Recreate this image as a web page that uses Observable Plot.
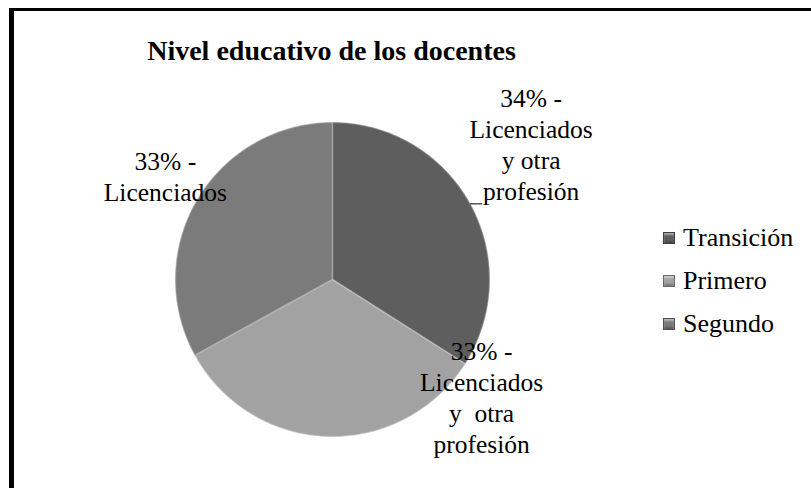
<!DOCTYPE html>
<html>
<head>
<meta charset="utf-8">
<script src="https://cdn.jsdelivr.net/npm/d3@7"></script>
<script src="https://cdn.jsdelivr.net/npm/@observablehq/plot@0.6"></script>
<style>
  html, body { margin: 0; padding: 0; background: #fff; }
  body { width: 811px; height: 488px; overflow: hidden; position: relative; font-family: 'Liberation Serif', serif; }
  #chart { position: absolute; left: 0; top: 0; }
  #frame { position: absolute; left: 9px; top: 8px; width: 900px; height: 600px; border-left: 5px solid #000; border-top: 3px solid #000; box-sizing: border-box; pointer-events: none; }
  #title { position: absolute; left: 0; top: 35px; width: 663px; text-align: center; font-weight: bold; font-size: 28px; color: #000; }
  #legend { position: absolute; left: 663px; top: 216px; }
  .item { display: flex; align-items: center; height: 43px; font-size: 26px; color: #000; }
  .sw { width: 12px; height: 12px; margin-right: 8px; box-sizing: border-box; border: 1px solid rgba(0,0,0,0.35); box-shadow: inset 0 2px 2px rgba(255,255,255,0.45), inset 0 -2px 2px rgba(0,0,0,0.25); }
</style>
</head>
<body>
<div id="chart"></div>
<div id="title">Nivel educativo de los docentes</div>
<div id="legend"></div>
<div id="frame"></div>
<script>
// ---- data ----
const categories = ["Transición", "Primero", "Segundo"];
const shares = [34, 33, 33];
const labelTexts = [
  "34% -\nLicenciados\ny otra\nprofesión",
  "33% -\nLicenciados\ny\u00a0\u00a0otra\nprofesión",
  "33% -\nLicenciados"
];
const colors = ["#5e5e5e", "#a2a2a2", "#7b7b7b"];

// ---- build slices (clockwise from 12 o'clock) ----
const total = d3.sum(shares);
const slices = [];
let acc = 0;
categories.forEach((c, i) => {
  const a0 = acc / total * 2 * Math.PI;
  acc += shares[i];
  const a1 = acc / total * 2 * Math.PI;
  slices.push({category: c, a0, a1, mid: (a0 + a1) / 2, label: labelTexts[i]});
});
const polar = (a, r) => ({x: Math.sin(a) * r, y: Math.cos(a) * r});

const pieRows = [];
for (const s of slices) {
  pieRows.push({category: s.category, ...polar(0, 0)});
  const n = 120;
  for (let k = 0; k <= n; k++) {
    const a = s.a0 + (s.a1 - s.a0) * k / n;
    pieRows.push({category: s.category, ...polar(a, 1)});
  }
  pieRows.push({category: s.category, ...polar(0, 0)});
}

const labelRows = slices.map(s => ({category: s.category, label: s.label, ...polar(s.mid, 1)}));
const offsets = {
  "Transición": [61, -60],
  "Primero": [154, -40],
  "Segundo": [-32, -24]
};

const lead = labelRows[0];
const leaderRows = [{x1: lead.x, y1: lead.y, x2: lead.x + 12 / 157, y2: lead.y}];

const serif = "Liberation Serif";
const textMarks = labelRows.map(d => Plot.text([d], {
  x: "x", y: "y", text: "label",
  dx: offsets[d.category][0], dy: offsets[d.category][1],
  textAnchor: "middle", lineAnchor: "middle", lineHeight: 1.22,
  fontSize: 25.5, fontFamily: serif, fill: "#000"
}));

const plot = Plot.plot({
  width: 811,
  height: 488,
  marginLeft: 175,
  marginRight: 322,
  marginTop: 122,
  marginBottom: 52,
  x: {domain: [-1, 1], axis: null},
  y: {domain: [-1, 1], axis: null},
  color: {domain: categories, range: colors},
  style: {background: "transparent", overflow: "visible", fontFamily: serif},
  marks: [
    Plot.line(pieRows, {x: "x", y: "y", z: "category", fill: "category", stroke: "category", strokeWidth: 0.5, curve: "linear"}),
    Plot.line(pieRows, {x: "x", y: "y", z: "category", stroke: "#ffffff", strokeOpacity: 0.18, strokeWidth: 1.5, curve: "linear"}),
    Plot.link(leaderRows, {x1: "x1", y1: "y1", x2: "x2", y2: "y2", stroke: "#000", strokeWidth: 1}),
    ...textMarks
  ]
});
document.getElementById("chart").appendChild(plot);

// ---- legend ----
const color = plot.scale("color");
const legend = document.getElementById("legend");
categories.forEach((c, i) => {
  const item = document.createElement("div");
  item.className = "item";
  const sw = document.createElement("span");
  sw.className = "sw";
  sw.style.background = color.range[i];
  const t = document.createElement("span");
  t.textContent = c;
  item.appendChild(sw);
  item.appendChild(t);
  legend.appendChild(item);
});
</script>
</body>
</html>
